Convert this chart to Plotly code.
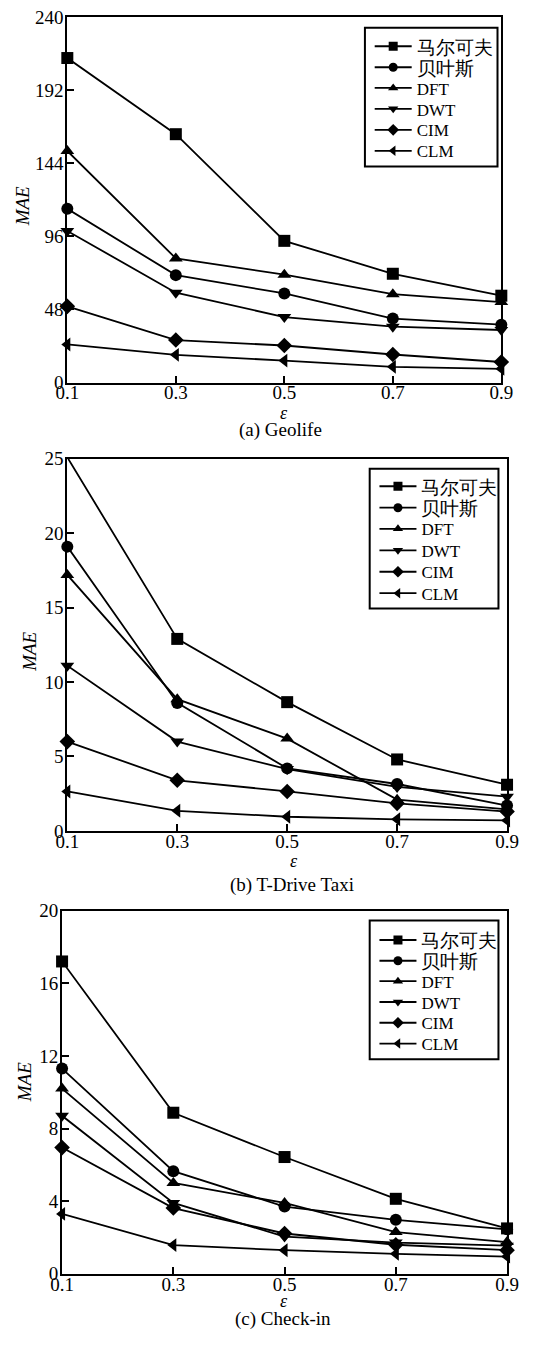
import plotly.graph_objects as go

# the page body keeps its default 8px margin, so the figure is sized to fill
# the remaining 536x1351 window exactly
PAGE_W, PAGE_H = 536, 1351
BODY_MARGIN = 8
W, H = PAGE_W - 2 * BODY_MARGIN, PAGE_H - 2 * BODY_MARGIN

# privacy budget values on the x axis
eps = [0.1, 0.3, 0.5, 0.7, 0.9]
x_ticks = [0.1, 0.3, 0.5, 0.7, 0.9]
x_tick_text = ["0.1", "0.3", "0.5", "0.7", "0.9"]

methods = ["马尔可夫", "贝叶斯", "DFT", "DWT", "CIM", "CLM"]
symbols = ["square", "circle", "triangle-up", "triangle-down", "diamond", "triangle-left"]

# (a) Geolife
geolife_markov = [213, 163, 93, 71.4, 57]
geolife_bayes = [114, 70.5, 58.5, 42, 38]
geolife_dft = [152, 81.5, 70.8, 58, 52.8]
geolife_dwt = [99.5, 59, 43, 36.7, 34.5]
geolife_cim = [50, 27.9, 24.3, 18.4, 13.5]
geolife_clm = [25, 18.2, 14.4, 10.3, 9]
geolife_yticks = [0, 48, 96, 144, 192, 240]

# (b) T-Drive Taxi
taxi_markov = [25.1, 12.9, 8.65, 4.8, 3.1]
taxi_bayes = [19.1, 8.6, 4.2, 3.15, 1.7]
taxi_dft = [17.2, 8.85, 6.2, 2.1, 1.45]
taxi_dwt = [11.1, 6.0, 4.15, 2.95, 2.3]
taxi_cim = [6.0, 3.4, 2.65, 1.85, 1.3]
taxi_clm = [2.65, 1.35, 0.95, 0.78, 0.7]
taxi_yticks = [0, 5, 10, 15, 20, 25]

# (c) Check-in
checkin_markov = [17.2, 8.87, 6.43, 4.13, 2.5]
checkin_bayes = [11.3, 5.65, 3.7, 2.97, 2.45]
checkin_dft = [10.2, 5.0, 3.9, 2.3, 1.75]
checkin_dwt = [8.7, 3.9, 2.05, 1.72, 1.55]
checkin_cim = [6.95, 3.62, 2.22, 1.6, 1.3]
checkin_clm = [3.3, 1.58, 1.3, 1.1, 0.95]
checkin_yticks = [0, 4, 8, 12, 16, 20]

SERIF = "Liberation Serif"


def px_x(v):
    # page pixel -> paper fraction
    return (v - BODY_MARGIN) / W


def px_y(v):
    return 1 - (v - BODY_MARGIN) / H


panels = [
    dict(series=[geolife_markov, geolife_bayes, geolife_dft, geolife_dwt, geolife_cim, geolife_clm],
         yticks=geolife_yticks, box=(66, 521, 15, 386.5),
         legend_box=(378, 517, 26, 167), legend_x=383, legend_top=45, legend_step=21.3,
         mae=(19, 207), eps_lbl=(293, 417), caption=(289, 435, "(a) Geolife")),
    dict(series=[taxi_markov, taxi_bayes, taxi_dft, taxi_dwt, taxi_cim, taxi_clm],
         yticks=taxi_yticks, box=(66, 527, 464, 842),
         legend_box=(383, 518, 474, 616), legend_x=388, legend_top=492, legend_step=21.8,
         mae=(27, 660), eps_lbl=(304, 873), caption=(302, 897, "(b) T-Drive Taxi")),
    dict(series=[checkin_markov, checkin_bayes, checkin_dft, checkin_dwt, checkin_cim, checkin_clm],
         yticks=checkin_yticks, box=(60.5, 527, 923, 1292),
         legend_box=(383, 518, 933, 1074), legend_x=388, legend_top=953, legend_step=21.1,
         mae=(22, 1097), eps_lbl=(293, 1320), caption=(292, 1338, "(c) Check-in")),
]

fig = go.Figure()
layout = dict(
    width=W, height=H, autosize=False,
    margin=dict(l=0, r=0, t=0, b=0, pad=0),
    paper_bgcolor="white", plot_bgcolor="white",
    font=dict(family=SERIF, size=19, color="black"),
    annotations=[], shapes=[], showlegend=True,
)

legend_no = 0
for i, p in enumerate(panels):
    n = "" if i == 0 else str(i + 1)
    x0, x1, y0, y1 = p["box"]
    for name, sym, vals in zip(methods, symbols, p["series"]):
        fig.add_trace(go.Scatter(
            x=eps, y=vals, name=name, mode="lines+markers",
            line=dict(color="black", width=1.8),
            marker=dict(symbol=sym, size=12, color="black"),
            cliponaxis=False, showlegend=False,
            xaxis="x" + n, yaxis="y" + n,
        ))

    # legend frame
    bx0, bx1, by0, by1 = p["legend_box"]
    layout["shapes"].append(dict(
        type="rect", xref="paper", yref="paper",
        x0=px_x(bx0), x1=px_x(bx1), y0=px_y(by1), y1=px_y(by0),
        line=dict(color="black", width=2), fillcolor="white", layer="above",
    ))
    # one legend per row so the row pitch follows the frame
    for k, (name, sym) in enumerate(zip(methods, symbols)):
        legend_no += 1
        lname = "legend" if legend_no == 1 else f"legend{legend_no}"
        fig.add_trace(go.Scatter(
            x=[None], y=[None], name=name, mode="lines+markers",
            line=dict(color="black", width=1.8),
            marker=dict(symbol=sym, size=9, color="black"),
            xaxis="x" + n, yaxis="y" + n, legend=lname, showlegend=True,
        ))
        row_y = p["legend_top"] + k * p["legend_step"]
        layout[lname] = dict(
            x=px_x(p["legend_x"]), y=px_y(row_y), xanchor="left", yanchor="middle",
            bgcolor="rgba(0,0,0,0)", borderwidth=0,
            font=dict(family=SERIF, size=(17 if name.isascii() else 19), color="black"),
            itemwidth=37,
        )

    axis_common = dict(
        showgrid=False, zeroline=False, showline=True, linecolor="black", linewidth=2,
        mirror=True, ticks="inside", ticklen=7, tickwidth=1.5, tickcolor="black",
        tickfont=dict(family=SERIF, size=19, color="black"),
    )
    layout["xaxis" + n] = dict(
        axis_common, domain=[px_x(x0), px_x(x1)], range=[0.1, 0.9],
        tickvals=x_ticks, ticktext=x_tick_text, anchor="y" + n,
        ticklabelstandoff=-8, ticklabeloverflow="allow",
    )
    ymax = p["yticks"][-1]
    layout["yaxis" + n] = dict(
        axis_common, domain=[px_y(y1), px_y(y0)], range=[0, ymax],
        tickvals=p["yticks"], anchor="x" + n,
        ticklabelstandoff=-2,
    )
    mx, my = p["mae"]
    layout["annotations"].append(dict(
        x=px_x(mx), y=px_y(my), xref="paper", yref="paper", text="<i>MAE</i>",
        textangle=-90, showarrow=False, font=dict(family=SERIF, size=19),
        xanchor="center", yanchor="middle"))
    ex, ey = p["eps_lbl"]
    layout["annotations"].append(dict(
        x=px_x(ex), y=px_y(ey), xref="paper", yref="paper", text="<i>ε</i>",
        showarrow=False, font=dict(family=SERIF, size=18),
        xanchor="center", yanchor="middle"))
    cx, cy, ctext = p["caption"]
    layout["annotations"].append(dict(
        x=px_x(cx), y=px_y(cy), xref="paper", yref="paper", text=ctext,
        showarrow=False, font=dict(family=SERIF, size=19),
        xanchor="center", yanchor="middle"))

fig.update_layout(layout)
fig.write_html("out.html")
